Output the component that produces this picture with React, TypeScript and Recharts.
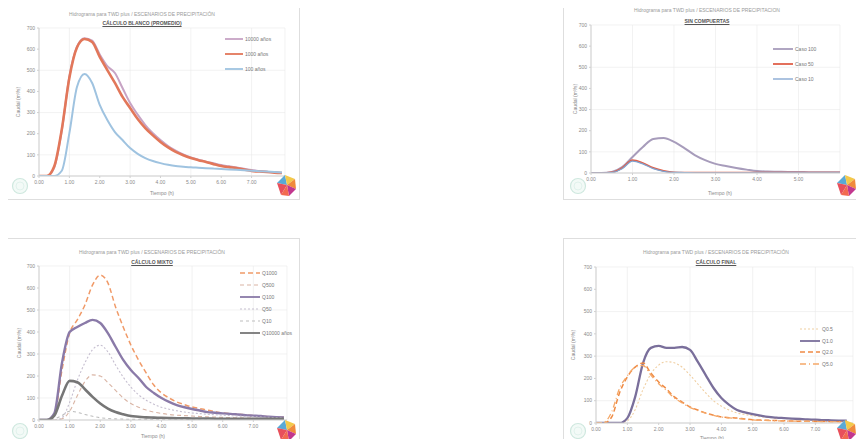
import React from "react";
import { LineChart, Line, XAxis, YAxis, CartesianGrid } from "recharts";

const FONT = "'Liberation Sans', Arial, sans-serif";

// time axes (hours)
const T8 = [0, 0.25, 0.5, 0.75, 1, 1.25, 1.5, 1.75, 2, 2.25, 2.5, 2.75, 3, 3.25, 3.5, 3.75, 4, 4.25, 4.5, 4.75, 5, 5.25, 5.5, 5.75, 6, 6.25, 6.5, 6.75, 7, 7.25, 7.5, 7.75, 8];
const T6 = [0, 0.25, 0.5, 0.75, 1, 1.25, 1.5, 1.75, 2, 2.25, 2.5, 2.75, 3, 3.25, 3.5, 3.75, 4, 4.25, 4.5, 4.75, 5, 5.25, 5.5, 5.75, 6];

const X_TICKS_8 = [0, 1, 2, 3, 4, 5, 6, 7];
const X_TICKS_6 = [0, 1, 2, 3, 4, 5];
const Y_TICKS = [0, 100, 200, 300, 400, 500, 600, 700];

// Panel 1
const P1_A = [0, 0, 40, 215, 470, 612, 652, 640, 575, 520, 487, 416, 345, 290, 241, 202, 170, 142, 120, 102, 88, 77, 68, 60, 52, 46, 40, 34, 28, 24, 20, 17, 14];
const P1_B = [0, 0, 45, 220, 465, 608, 648, 634, 563, 501, 440, 374, 322, 270, 227, 192, 161, 135, 114, 98, 85, 75, 66, 56, 47, 42, 38, 31, 24, 21, 19, 16, 14];
const P1_C = [0, 0, 0, 25, 203, 421, 483, 440, 336, 265, 208, 170, 132, 105, 85, 71, 61, 53, 47, 44, 41, 39, 37, 35, 33, 31, 29, 27, 25, 23, 21, 19, 17];

// Panel 2
const P2_A = [0, 0, 5, 28, 76, 123, 161, 165, 147, 118, 85, 61, 43, 33, 24, 16, 9, 7, 6, 5, 5, 4, 4, 4, 4];
const P2_B = [0, 0, 3, 24, 61, 47, 24, 10, 3, 2, 2, 2, 2, 2, 2, 2, 2, 2, 2, 2, 2, 2, 2, 2, 2];
const P2_C = [0, 0, 2, 20, 56, 43, 21, 8, 3, 2, 1, 1, 1, 1, 1, 1, 1, 1, 1, 1, 1, 1, 1, 1, 1];

// Panel 3
const P3_A = [0, 0, 23, 227, 395, 455, 523, 614, 659, 623, 514, 423, 341, 273, 214, 159, 123, 100, 82, 70, 59, 52, 45, 38, 32, 29, 27, 23, 20, 17, 15, 13, 12];
const P3_B = [0, 0, 30, 259, 400, 423, 441, 455, 441, 395, 333, 273, 227, 191, 150, 123, 100, 82, 68, 58, 50, 43, 36, 33, 30, 28, 25, 22, 20, 18, 15, 13, 12];
const P3_C = [0, 0, 0, 10, 80, 180, 260, 320, 340, 310, 250, 195, 150, 115, 90, 72, 58, 49, 42, 36, 32, 29, 26, 24, 22, 20, 18, 16, 15, 13, 12, 11, 10];
const P3_D = [0, 0, 20, 110, 178, 172, 140, 105, 75, 52, 36, 26, 18, 15, 12, 11, 10, 9, 8, 8, 7, 7, 7, 6, 6, 6, 5, 5, 5, 5, 5, 5, 5];
const P3_E = [0, 0, 0, 5, 40, 110, 175, 205, 200, 170, 135, 100, 75, 58, 45, 36, 30, 25, 22, 20, 18, 16, 14, 13, 12, 11, 10, 9, 8, 7, 7, 6, 6];
const P3_F = [0, 0, 5, 20, 40, 35, 25, 17, 10, 7, 5, 4, 3, 3, 3, 3, 3, 3, 3, 3, 3, 3, 3, 3, 3, 3, 3, 3, 3, 3, 3, 3, 3];

// Panel 4
const P4_A = [0, 0, 0, 0, 10, 60, 150, 220, 260, 275, 270, 250, 215, 175, 135, 100, 75, 58, 45, 38, 32, 28, 25, 22, 20, 18, 16, 14, 13, 12, 11, 10, 9];
const P4_B = [0, 0, 0, 0, 22, 117, 269, 337, 346, 337, 337, 341, 328, 274, 215, 157, 112, 81, 58, 48, 40, 33, 27, 24, 22, 20, 18, 16, 15, 13, 12, 11, 10];
const P4_C = [0, 0, 27, 135, 207, 251, 269, 224, 184, 153, 117, 94, 72, 58, 45, 35, 27, 24, 22, 18, 15, 13, 12, 11, 10, 9, 8, 8, 7, 7, 6, 6, 5];
const P4_D = [0, 3, 50, 155, 212, 250, 258, 215, 176, 146, 112, 90, 70, 56, 44, 34, 27, 23, 20, 17, 14, 12, 11, 10, 9, 8, 8, 7, 7, 6, 6, 5, 5];

type S = { key: string; name: string; color: string; width: number; dash?: string; values: number[] };

const SERIES1: S[] = [
  { key: "a", name: "10000 años", color: "#c7a3c4", width: 2, values: P1_A },
  { key: "b", name: "1000 años", color: "#e2775a", width: 2.6, values: P1_B },
  { key: "c", name: "100 años", color: "#9fc3e0", width: 2, values: P1_C },
];
const SERIES2: S[] = [
  { key: "a", name: "Caso 100", color: "#a79cbb", width: 2, values: P2_A },
  { key: "b", name: "Caso 50", color: "#e0604a", width: 1.8, values: P2_B },
  { key: "c", name: "Caso 10", color: "#7fa3d0", width: 1.3, values: P2_C },
];
const SERIES3: S[] = [
  { key: "a", name: "Q1000", color: "#f09a68", width: 1.5, dash: "5 3", values: P3_A },
  { key: "e", name: "Q500", color: "#d9b4a4", width: 1.1, dash: "4 3", values: P3_E },
  { key: "b", name: "Q100", color: "#8a7aa8", width: 2.4, values: P3_B },
  { key: "c", name: "Q50", color: "#c6bfd0", width: 1.1, dash: "2 2", values: P3_C },
  { key: "f", name: "Q10", color: "#bdbdbd", width: 1.1, dash: "3 3", values: P3_F },
  { key: "d", name: "Q10000 años", color: "#767676", width: 2.6, values: P3_D },
];
const SERIES4: S[] = [
  { key: "a", name: "Q0.5", color: "#f0cfa2", width: 1.1, dash: "2 2", values: P4_A },
  { key: "b", name: "Q1.0", color: "#7a6f9b", width: 2.3, values: P4_B },
  { key: "c", name: "Q2.0", color: "#ef8b45", width: 1.5, dash: "5 3", values: P4_C },
  { key: "d", name: "Q5.0", color: "#f5a868", width: 1.3, dash: "6 3 1 3", values: P4_D },
];

type PanelProps = {
  left: number; top: number; w: number; h: number;
  margin: { top: number; right: number; bottom: number; left: number };
  yw: number; times: number[]; series: S[]; xMax: number; xTicks: number[];
  title1: string; title2: string; tx: number; ty1: number; ty2: number;
  ylx: number; yly: number; xlx: number; xly: number;
  lgx: number; lgy: number; lgStep: number; lgLine: number;
};

function Logos({ w, h }: { w: number; h: number }) {
  return (
    <>
      <svg style={{ position: "absolute", left: 5, top: h - 22 }} width={18} height={18}>
        <circle cx={9} cy={9} r={7.5} fill="#f3faf7" stroke="#cfe8df" strokeWidth={1.2} />
        <circle cx={9} cy={9} r={4} fill="none" stroke="#dcefe8" strokeWidth={0.8} />
      </svg>
      <svg style={{ position: "absolute", left: w - 24, top: h - 26 }} width={22} height={24}>
        <polygon points="2,10 10,2 12,12" fill="#5aa9d6" />
        <polygon points="10,2 20,6 12,12" fill="#f3c94a" />
        <polygon points="12,12 20,6 21,16" fill="#f08a3c" />
        <polygon points="2,10 12,12 6,22" fill="#e8505b" />
        <polygon points="12,12 21,16 14,23" fill="#c2378f" />
        <polygon points="6,22 12,12 14,23" fill="#f26a4f" />
      </svg>
    </>
  );
}

function Panel(p: PanelProps) {
  const rows = p.times.map((t, i) => {
    const r: Record<string, number> = { t };
    p.series.forEach((s) => { r[s.key] = s.values[i]; });
    return r;
  });
  const iw = p.w - 2;
  const ih = p.h - 2;
  const txt: React.CSSProperties = { position: "absolute", whiteSpace: "nowrap", fontSize: 5, color: "#8a8a8a", lineHeight: "6px" };
  return (
    <div style={{ position: "absolute", left: p.left, top: p.top, width: p.w, height: p.h, border: "1px solid #dedede", boxSizing: "border-box", background: "#fff", fontFamily: FONT, overflow: "hidden" }}>
      <LineChart width={iw} height={ih} data={rows} margin={p.margin} style={{ fontFamily: FONT }}>
        <CartesianGrid stroke="#e9e9e9" strokeWidth={0.6} />
        <XAxis dataKey="t" type="number" domain={[0, p.xMax]} ticks={p.xTicks} allowDataOverflow
          tickFormatter={(v: number) => v.toFixed(2)} tick={{ fontSize: 5, fill: "#8a8a8a" }}
          tickSize={2} height={14} axisLine={{ stroke: "#d0d0d0" }} tickLine={{ stroke: "#d0d0d0" }} />
        <YAxis type="number" domain={[0, 700]} ticks={Y_TICKS} width={p.yw} allowDataOverflow
          tick={{ fontSize: 5, fill: "#8a8a8a" }} tickSize={2} axisLine={{ stroke: "#d0d0d0" }} tickLine={{ stroke: "#d0d0d0" }} />
        {p.series.map((s) => (
          <Line key={s.key} dataKey={s.key} name={s.name} type="monotone" stroke={s.color} strokeWidth={s.width}
            strokeDasharray={s.dash} dot={false} isAnimationActive={false} />
        ))}
      </LineChart>
      <div style={{ ...txt, left: p.tx, top: p.ty1 - 3, transform: "translateX(-50%)", color: "#9a9a9a" }}>{p.title1}</div>
      <div style={{ ...txt, left: p.tx, top: p.ty2 - 3, transform: "translateX(-50%)", color: "#555", fontWeight: "bold", textDecoration: "underline" }}>{p.title2}</div>
      <div style={{ ...txt, left: p.ylx, top: p.yly, transform: "translate(-50%, -50%) rotate(-90deg)" }}>Caudal (m³/s)</div>
      <div style={{ ...txt, left: p.xlx, top: p.xly - 3, transform: "translateX(-50%)" }}>Tiempo (h)</div>
      {p.series.map((s, i) => (
        <div key={s.key} style={{ position: "absolute", left: p.lgx, top: p.lgy + i * p.lgStep - 3, display: "flex", alignItems: "center", height: 6 }}>
          <svg width={p.lgLine} height={4} style={{ display: "block" }}>
            <line x1={0} y1={2} x2={p.lgLine} y2={2} stroke={s.color} strokeWidth={Math.min(s.width, 1.8)} strokeDasharray={s.dash} />
          </svg>
          <span style={{ fontSize: 5, color: "#777", marginLeft: 2, whiteSpace: "nowrap", lineHeight: "6px" }}>{s.name}</span>
        </div>
      ))}
      <Logos w={iw} h={ih} />
    </div>
  );
}

const TITLE1 = "Hidrograma para TWD plus / ESCENARIOS DE PRECIPITACIÓN";

export default function App() {
  return (
    <div style={{ position: "relative", width: 864, height: 447, background: "#fff", margin: -8 }}>
      <Panel left={5} top={3} w={295} h={197} margin={{ top: 24, right: 14, bottom: 9, left: 11 }} yw={22}
        times={T8} series={SERIES1} xMax={8.1} xTicks={X_TICKS_8}
        title1={TITLE1} title2="CÁLCULO BLANCO (PROMEDIO)" tx={136} ty1={10} ty2={19}
        ylx={12} yly={98} xlx={156} xly={189} lgx={219} lgy={35} lgStep={15} lgLine={18} />
      <Panel left={563} top={3} w={297} h={197} margin={{ top: 21, right: 19, bottom: 12, left: 7 }} yw={20}
        times={T6} series={SERIES2} xMax={6} xTicks={X_TICKS_6}
        title1={TITLE1} title2="SIN COMPUERTAS" tx={143} ty1={6} ty2={17}
        ylx={11} yly={95} xlx={156} xly={189} lgx={209} lgy={45} lgStep={15} lgLine={20} />
      <Panel left={5} top={238} w={295} h={207} margin={{ top: 27, right: 12, bottom: 10, left: 11 }} yw={22}
        times={T8} series={SERIES3} xMax={8.1} xTicks={X_TICKS_8}
        title1={TITLE1} title2="CÁLCULO MIXTO" tx={146} ty1={13} ty2={23}
        ylx={13} yly={104} xlx={147} xly={197} lgx={234} lgy={34} lgStep={12} lgLine={20} />
      <Panel left={563} top={238} w={297} h={207} margin={{ top: 28, right: 6, bottom: 7, left: 12 }} yw={20}
        times={T8} series={SERIES4} xMax={8.2} xTicks={X_TICKS_8}
        title1={TITLE1} title2="CÁLCULO FINAL" tx={152} ty1={13} ty2={23}
        ylx={9} yly={106} xlx={148} xly={199} lgx={236} lgy={90} lgStep={11.5} lgLine={20} />
    </div>
  );
}
